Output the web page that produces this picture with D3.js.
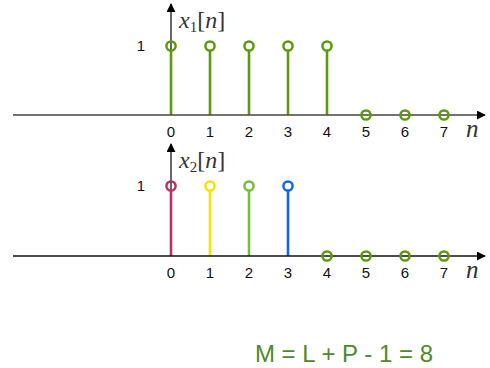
<!DOCTYPE html>
<html><head><meta charset="utf-8">
<script src="https://cdn.jsdelivr.net/npm/d3@7"></script>
<style>body{margin:0;background:#fff}svg{display:block}</style>
</head><body>
<svg id="c" width="490" height="368"></svg>
<script>
// Sample indices and signal values
const indices = [0, 1, 2, 3, 4, 5, 6, 7];
const x1Values = [1, 1, 1, 1, 1, 0, 0, 0];
const x2Values = [1, 1, 1, 1, 0, 0, 0, 0];
const x1Colors = ["#5c9a0b", "#5c9a0b", "#5c9a0b", "#5c9a0b", "#5c9a0b", "#5c9a0b", "#5c9a0b", "#5c9a0b"];
const x2Colors = ["#c0305f", "#f2e400", "#72bf3c", "#1464f4", "#5c9a0b", "#5c9a0b", "#5c9a0b", "#5c9a0b"];
const panelLabels = ["x", "x"];
const panelSubs = ["1", "2"];
const formula = "M = L + P - 1 = 8";

const svg = d3.select("#c");
const x = d3.scaleLinear().domain([0, 7]).range([171, 444]);

svg.append("defs").append("marker")
  .attr("id", "arr").attr("viewBox", "0 0 10 10").attr("refX", 9).attr("refY", 5)
  .attr("markerWidth", 9).attr("markerHeight", 9).attr("markerUnits", "userSpaceOnUse")
  .attr("orient", "auto")
  .append("path").attr("d", "M0,0 L10,5 L0,10 Z").attr("fill", "#000");

const mathFont = "Liberation Serif, DejaVu Serif, serif";

function panel(values, colors, base, top, label, sub, axisColor) {
  const y = d3.scaleLinear().domain([0, 1]).range([base, top]);
  const g = svg.append("g");

  // vertical axis (drawn first so the first stem sits over it)
  g.append("line").attr("x1", x(0)).attr("x2", x(0)).attr("y1", base).attr("y2", top - 42)
    .attr("stroke", "#000").attr("stroke-width", 1.2).attr("marker-end", "url(#arr)");

  // stems
  g.selectAll("line.stem").data(indices.filter(i => values[i] !== 0)).join("line")
    .attr("x1", i => x(i)).attr("x2", i => x(i))
    .attr("y1", y(0)).attr("y2", i => y(values[i]) + 4)
    .attr("stroke", i => colors[i]).attr("stroke-width", 2.6);

  // horizontal axis
  g.append("line").attr("x1", 13).attr("x2", 485).attr("y1", base).attr("y2", base)
    .attr("stroke", axisColor).attr("stroke-width", 1.4).attr("marker-end", "url(#arr)");

  // markers
  g.selectAll("circle").data(indices).join("circle")
    .attr("cx", i => x(i)).attr("cy", i => y(values[i])).attr("r", 4.6)
    .attr("fill", "none").attr("stroke", i => colors[i]).attr("stroke-width", 2.5);

  // tick labels
  g.selectAll("text.tick").data(indices).join("text")
    .attr("x", i => x(i)).attr("y", base + 22)
    .attr("text-anchor", "middle").attr("font-family", "Liberation Sans, Arial, sans-serif")
    .attr("font-size", 15).attr("fill", "#111").text(i => i);

  g.append("text").attr("x", 141).attr("y", y(1) + 5).attr("text-anchor", "middle")
    .attr("font-family", "Liberation Sans, Arial, sans-serif").attr("font-size", 15).attr("fill", "#111").text("1");

  g.append("text").attr("x", 466).attr("y", base + 22)
    .attr("font-family", mathFont).attr("font-style", "italic")
    .attr("font-size", 25).attr("fill", "#333").text("n");

  const t = g.append("text").attr("x", 179).attr("y", top - 18)
    .attr("font-family", mathFont).attr("font-size", 24).attr("fill", "#333");
  t.append("tspan").attr("font-style", "italic").text(label);
  t.append("tspan").attr("font-size", 15).attr("dy", 4).text(sub);
  t.append("tspan").attr("dy", -4).text("[");
  t.append("tspan").attr("font-style", "italic").text("n");
  t.append("tspan").text("]");
}

panel(x1Values, x1Colors, 115, 46, panelLabels[0], panelSubs[0], "#444");
panel(x2Values, x2Colors, 256, 186, panelLabels[1], panelSubs[1], "#111");

svg.append("text").attr("x", 344).attr("y", 362).attr("text-anchor", "middle")
  .attr("font-family", "Liberation Sans, Arial, sans-serif").attr("font-size", 24)
  .attr("fill", "#4e8a2a").text(formula);
</script>
</body></html>
